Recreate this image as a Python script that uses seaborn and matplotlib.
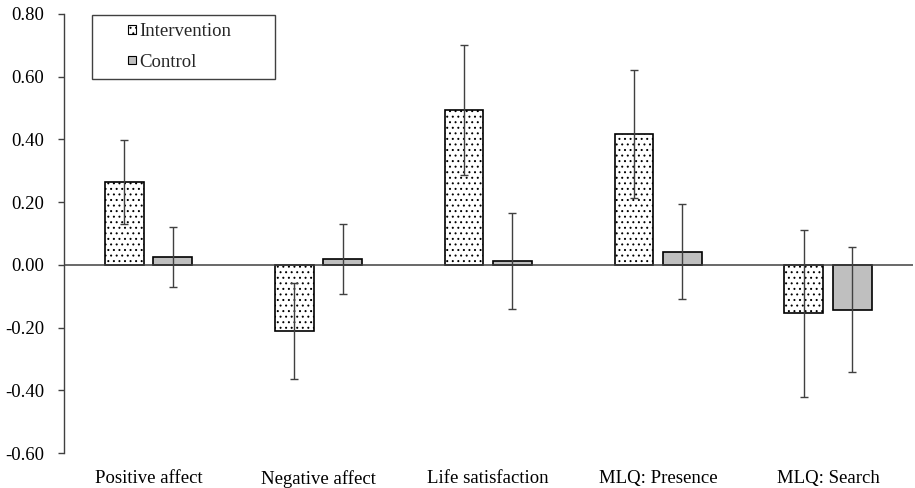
import matplotlib
matplotlib.use("Agg")
import matplotlib.pyplot as plt
from matplotlib.patches import Rectangle
from matplotlib.legend_handler import HandlerPatch
import numpy as np
import pandas as pd
import seaborn as sns

# Outcome measures and group labels
categories = ["Positive affect", "Negative affect", "Life satisfaction",
              "MLQ: Presence", "MLQ: Search"]
groups = ["Intervention", "Control"]

# Mean change scores and error-bar half widths per group
intervention_mean = [0.263, -0.212, 0.493, 0.418, -0.155]
intervention_err = [0.134, 0.153, 0.208, 0.205, 0.266]
control_mean = [0.025, 0.019, 0.012, 0.042, -0.143]
control_err = [0.097, 0.112, 0.153, 0.152, 0.199]

# Y axis ticks and their labels
y_ticks = [-0.60, -0.40, -0.20, 0.00, 0.20, 0.40, 0.60, 0.80]
y_tick_labels = ["-0.60", "-0.40", "-0.20", "0.00", "0.20", "0.40", "0.60", "0.80"]

FS = 13.5

sns.set_style("white")
plt.rcParams["font.family"] = ["Liberation Serif", "DejaVu Serif"]
plt.rcParams["hatch.linewidth"] = 0.7
plt.rcParams["axes.unicode_minus"] = False

df = pd.DataFrame({
    "measure": categories * 2,
    "group": [groups[0]] * len(categories) + [groups[1]] * len(categories),
    "value": intervention_mean + control_mean,
})

fig = plt.figure(figsize=(9.15, 4.88), dpi=100)
ax = fig.add_axes([63.5 / 915, 1 - 453 / 488, (913 - 63.5) / 915, (453 - 14) / 488])

sns.barplot(data=df, x="measure", y="value", hue="group",
            order=categories, hue_order=groups,
            palette={"Intervention": "white", "Control": "#BFBFBF"},
            width=0.57, gap=0.2, errorbar=None, edgecolor="black",
            linewidth=1.2, legend=False, ax=ax, zorder=2)

# Dotted fill for the intervention bars
for bar in ax.containers[0]:
    bar.set_hatch("...")

# Error bars centred on each bar
for container, means, errs in zip(ax.containers[:2],
                                  [intervention_mean, control_mean],
                                  [intervention_err, control_err]):
    xs = [p.get_x() + p.get_width() / 2 for p in container]
    ax.errorbar(xs, means, yerr=errs, fmt="none", ecolor="#404040",
                elinewidth=1.0, capsize=3, capthick=1.0, zorder=4)

ax.axhline(0, color="#404040", linewidth=1.1, zorder=3)

ax.set_xlim(-0.5, len(categories) - 0.5)
ax.set_ylim(-0.60, 0.80)
ax.set_yticks(y_ticks)
ax.set_yticklabels(y_tick_labels)
ax.set_xlabel("")
ax.set_ylabel("")

for side in ["top", "right", "bottom"]:
    ax.spines[side].set_visible(False)
ax.spines["left"].set_color("#404040")
ax.spines["left"].set_linewidth(1.0)

ax.tick_params(axis="y", which="major", direction="out", length=4,
               width=1.0, color="#404040", pad=10, labelsize=FS,
               labelcolor="black", left=True)
ax.tick_params(axis="x", length=0, pad=12, labelsize=FS, labelcolor="black")


def small_square(legend, orig_handle, xdescent, ydescent, width, height, fontsize):
    s = 6.0
    return Rectangle((-xdescent + width - s, -ydescent + (height - s) / 2), s, s)


handles = [ax.containers[0][0], ax.containers[1][0]]
leg = ax.legend(handles, groups, loc="upper left",
                bbox_to_anchor=(92 / 915, 1 - 15 / 488 - 0.13, 183 / 915, 0.13),
                bbox_transform=fig.transFigure, mode="expand", borderaxespad=0,
                borderpad=0.42, handlelength=1.92, handleheight=0.7,
                handletextpad=0.16, labelspacing=0.72, fontsize=FS,
                fancybox=False, framealpha=1, edgecolor="#404040",
                handler_map={Rectangle: HandlerPatch(patch_func=small_square)})
leg.get_frame().set_linewidth(1.0)
for h in leg.legend_handles:
    h.set_linewidth(0.8)

fig.savefig("out.png", dpi=100, facecolor="white")
